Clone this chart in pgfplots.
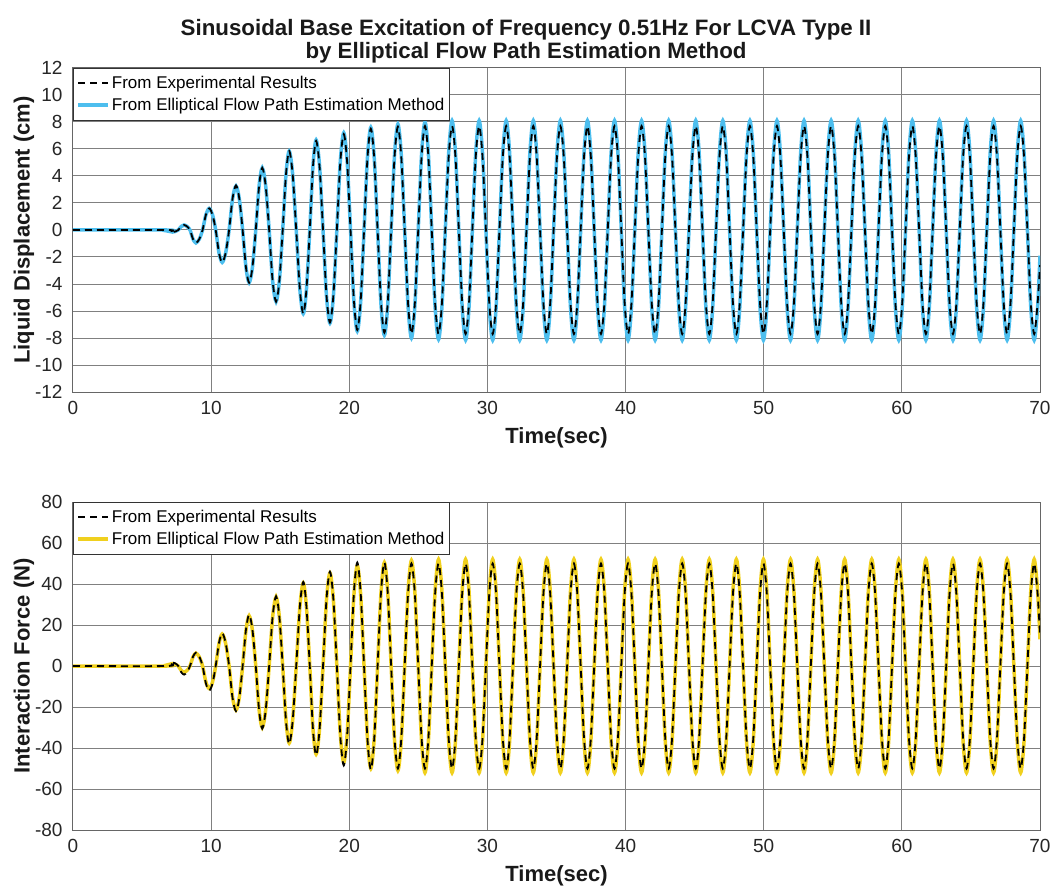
\documentclass[border=0pt]{standalone}
\usepackage{pgfplots}
\usepackage{pgfplotstable}
\pgfplotsset{compat=1.18}
\usepackage{fontspec}
\setmainfont{Liberation Sans}
\definecolor{cblue}{RGB}{77,190,238}
\definecolor{cyel}{RGB}{240,208,30}
\pgfplotstableread{
t ub uk fy fk
0 0 0 0 0
6.8 0 0 0 0
7.0 -0.11 -0.11 0.85 1.27
7.2 -0.15 -0.15 1.2 1.8
7.41 -0.11 -0.11 0.85 1.27
7.62 0 0 0 0
7.83 0.26 0.26 -2.12 -2.97
8.04 0.37 0.37 -3.0 -4.2
8.26 0.26 0.26 -2.12 -2.97
8.47 0 0 0 0
8.69 -0.68 -0.68 4.45 4.6
8.9 -0.96 -0.96 6.3 6.5
9.14 -0.68 -0.68 4.45 4.6
9.38 0 0 0 0
9.62 1.13 1.13 -7.78 -8.48
9.86 1.6 1.6 -11 -12
10.1 1.13 1.13 -7.78 -8.48
10.33 0 0 0 0
10.57 -1.7 -1.7 11.0 11.3
10.8 -2.4 -2.4 15.6 16
11.05 -1.7 -1.7 11.0 11.3
11.3 0 0 0 0
11.55 2.3 2.33 -15.2 -15.6
11.8 3.26 3.3 -21.5 -22
12.04 2.3 2.33 -15.2 -15.6
12.28 0 0 0 0
12.52 -2.76 -2.76 17.3 17.7
12.75 -3.9 -3.9 24.5 25
12.99 -2.76 -2.76 17.3 17.7
13.23 0 0 0 0
13.47 3.25 3.25 -21.2 -21.6
13.7 4.6 4.6 -30 -30.5
13.95 3.25 3.25 -21.2 -21.6
14.2 0 0 0 0
14.45 -3.75 -3.75 23.8 24.0
14.7 -5.3 -5.3 33.7 34
14.94 -3.75 -3.75 23.8 24.0
15.18 0 0 0 0
15.42 4.14 4.14 -26.6 -26.9
15.65 5.85 5.85 -37.6 -38
15.9 4.14 4.14 -26.6 -26.9
16.16 0 0 0 0
16.42 -4.38 -4.38 28.6 29.0
16.67 -6.2 -6.2 40.5 41
16.9 -4.38 -4.38 28.6 29.0
17.14 0 0 0 0
17.37 4.72 4.67 -30.4 -30.8
17.6 6.67 6.6 -43 -43.5
17.85 4.72 4.67 -30.4 -30.8
18.1 0 0 0 0
18.35 -4.88 -4.84 32.1 32.5
18.6 -6.9 -6.85 45.4 46
18.85 -4.88 -4.84 32.1 32.5
19.1 0 0 0 0
19.35 5.09 5.02 -33.2 -34.3
19.6 7.2 7.1 -47 -48.5
19.845 5.09 5.02 -33.2 -34.3
20.09 0 0 0 0
20.335 -5.3 -5.23 34.6 35.7
20.58 -7.5 -7.4 49 50.5
20.825 -5.3 -5.23 34.6 35.7
21.07 0 0 0 0
21.315 5.37 5.3 -35.4 -35.7
21.56 7.6 7.5 -50 -50.5
21.805 5.37 5.3 -35.4 -35.7
22.05 0 0 0 0
22.295 -5.51 -5.37 35.7 35.7
22.54 -7.8 -7.6 50.5 50.5
22.785 -5.51 -5.37 35.7 35.7
23.03 0 0 0 0
23.275 5.55 5.41 -36.1 -35.4
23.52 7.85 7.65 -51 -50
23.765 5.55 5.41 -36.1 -35.4
24.01 0 0 0 0
24.255 -5.66 -5.44 36.4 35.4
24.5 -8.0 -7.7 51.5 50
24.745 -5.66 -5.44 36.4 35.4
24.99 0 0 0 0
25.235 5.66 5.44 -36.8 -35.4
25.48 8.0 7.7 -52 -50
25.725 5.66 5.44 -36.8 -35.4
25.97 0 0 0 0
26.215 -5.73 -5.44 36.8 35.4
26.46 -8.1 -7.7 52 50
26.705 -5.73 -5.44 36.8 35.4
26.95 0 0 0 0
27.195 5.73 5.44 -36.8 -35.4
27.44 8.1 7.7 -52 -50
27.685 5.73 5.44 -36.8 -35.4
27.93 0 0 0 0
28.175 -5.76 -5.44 36.8 35.4
28.42 -8.15 -7.7 52 50
28.665 -5.76 -5.44 36.8 35.4
28.91 0 0 0 0
29.155 5.73 5.44 -36.8 -35.4
29.40 8.1 7.7 -52 -50
29.645 5.73 5.44 -36.8 -35.4
29.89 0 0 0 0
30.135 -5.76 -5.44 36.8 35.4
30.38 -8.15 -7.7 52 50
30.625 -5.76 -5.44 36.8 35.4
30.87 0 0 0 0
31.115 5.73 5.44 -36.8 -35.4
31.36 8.1 7.7 -52 -50
31.605 5.73 5.44 -36.8 -35.4
31.85 0 0 0 0
32.095 -5.76 -5.44 36.8 35.4
32.34 -8.15 -7.7 52 50
32.585 -5.76 -5.44 36.8 35.4
32.83 0 0 0 0
33.075 5.73 5.44 -36.8 -35.4
33.32 8.1 7.7 -52 -50
33.565 5.73 5.44 -36.8 -35.4
33.81 0 0 0 0
34.055 -5.76 -5.44 36.8 35.4
34.30 -8.15 -7.7 52 50
34.545 -5.76 -5.44 36.8 35.4
34.79 0 0 0 0
35.035 5.73 5.44 -36.8 -35.4
35.28 8.1 7.7 -52 -50
35.525 5.73 5.44 -36.8 -35.4
35.77 0 0 0 0
36.015 -5.76 -5.44 36.8 35.4
36.26 -8.15 -7.7 52 50
36.505 -5.76 -5.44 36.8 35.4
36.75 0 0 0 0
36.995 5.73 5.44 -36.8 -35.4
37.24 8.1 7.7 -52 -50
37.485 5.73 5.44 -36.8 -35.4
37.73 0 0 0 0
37.975 -5.76 -5.44 36.8 35.4
38.22 -8.15 -7.7 52 50
38.465 -5.76 -5.44 36.8 35.4
38.71 0 0 0 0
38.955 5.73 5.44 -36.8 -35.4
39.20 8.1 7.7 -52 -50
39.445 5.73 5.44 -36.8 -35.4
39.69 0 0 0 0
39.935 -5.76 -5.44 36.8 35.4
40.18 -8.15 -7.7 52 50
40.425 -5.76 -5.44 36.8 35.4
40.67 0 0 0 0
40.915 5.73 5.44 -36.8 -35.4
41.16 8.1 7.7 -52 -50
41.405 5.73 5.44 -36.8 -35.4
41.65 0 0 0 0
41.895 -5.76 -5.44 36.8 35.4
42.14 -8.15 -7.7 52 50
42.385 -5.76 -5.44 36.8 35.4
42.63 0 0 0 0
42.875 5.73 5.44 -36.8 -35.4
43.12 8.1 7.7 -52 -50
43.365 5.73 5.44 -36.8 -35.4
43.61 0 0 0 0
43.855 -5.76 -5.44 36.8 35.4
44.10 -8.15 -7.7 52 50
44.345 -5.76 -5.44 36.8 35.4
44.59 0 0 0 0
44.835 5.73 5.44 -36.8 -35.4
45.08 8.1 7.7 -52 -50
45.325 5.73 5.44 -36.8 -35.4
45.57 0 0 0 0
45.815 -5.76 -5.44 36.8 35.4
46.06 -8.15 -7.7 52 50
46.305 -5.76 -5.44 36.8 35.4
46.55 0 0 0 0
46.795 5.73 5.44 -36.8 -35.4
47.04 8.1 7.7 -52 -50
47.285 5.73 5.44 -36.8 -35.4
47.53 0 0 0 0
47.775 -5.76 -5.44 36.8 35.4
48.02 -8.15 -7.7 52 50
48.265 -5.76 -5.44 36.8 35.4
48.51 0 0 0 0
48.755 5.73 5.44 -36.8 -35.4
49.00 8.1 7.7 -52 -50
49.245 5.73 5.44 -36.8 -35.4
49.49 0 0 0 0
49.735 -5.76 -5.44 36.8 35.4
49.98 -8.15 -7.7 52 50
50.225 -5.76 -5.44 36.8 35.4
50.47 0 0 0 0
50.715 5.73 5.44 -36.8 -35.4
50.96 8.1 7.7 -52 -50
51.205 5.73 5.44 -36.8 -35.4
51.45 0 0 0 0
51.695 -5.76 -5.44 36.8 35.4
51.94 -8.15 -7.7 52 50
52.185 -5.76 -5.44 36.8 35.4
52.43 0 0 0 0
52.675 5.73 5.44 -36.8 -35.4
52.92 8.1 7.7 -52 -50
53.165 5.73 5.44 -36.8 -35.4
53.41 0 0 0 0
53.655 -5.76 -5.44 36.8 35.4
53.90 -8.15 -7.7 52 50
54.145 -5.76 -5.44 36.8 35.4
54.39 0 0 0 0
54.635 5.73 5.44 -36.8 -35.4
54.88 8.1 7.7 -52 -50
55.125 5.73 5.44 -36.8 -35.4
55.37 0 0 0 0
55.615 -5.76 -5.44 36.8 35.4
55.86 -8.15 -7.7 52 50
56.105 -5.76 -5.44 36.8 35.4
56.35 0 0 0 0
56.595 5.73 5.44 -36.8 -35.4
56.84 8.1 7.7 -52 -50
57.085 5.73 5.44 -36.8 -35.4
57.33 0 0 0 0
57.575 -5.76 -5.44 36.8 35.4
57.82 -8.15 -7.7 52 50
58.065 -5.76 -5.44 36.8 35.4
58.31 0 0 0 0
58.555 5.73 5.44 -36.8 -35.4
58.80 8.1 7.7 -52 -50
59.045 5.73 5.44 -36.8 -35.4
59.29 0 0 0 0
59.535 -5.76 -5.44 36.8 35.4
59.78 -8.15 -7.7 52 50
60.025 -5.76 -5.44 36.8 35.4
60.27 0 0 0 0
60.515 5.73 5.44 -36.8 -35.4
60.76 8.1 7.7 -52 -50
61.005 5.73 5.44 -36.8 -35.4
61.25 0 0 0 0
61.495 -5.76 -5.44 36.8 35.4
61.74 -8.15 -7.7 52 50
61.985 -5.76 -5.44 36.8 35.4
62.23 0 0 0 0
62.475 5.73 5.44 -36.8 -35.4
62.72 8.1 7.7 -52 -50
62.965 5.73 5.44 -36.8 -35.4
63.21 0 0 0 0
63.455 -5.76 -5.44 36.8 35.4
63.70 -8.15 -7.7 52 50
63.945 -5.76 -5.44 36.8 35.4
64.19 0 0 0 0
64.435 5.73 5.44 -36.8 -35.4
64.68 8.1 7.7 -52 -50
64.925 5.73 5.44 -36.8 -35.4
65.17 0 0 0 0
65.415 -5.76 -5.44 36.8 35.4
65.66 -8.15 -7.7 52 50
65.905 -5.76 -5.44 36.8 35.4
66.15 0 0 0 0
66.395 5.73 5.44 -36.8 -35.4
66.64 8.1 7.7 -52 -50
66.885 5.73 5.44 -36.8 -35.4
67.13 0 0 0 0
67.375 -5.76 -5.44 36.8 35.4
67.62 -8.15 -7.7 52 50
67.865 -5.76 -5.44 36.8 35.4
68.11 0 0 0 0
68.355 5.73 5.44 -36.8 -35.4
68.60 8.1 7.7 -52 -50
68.845 5.73 5.44 -36.8 -35.4
69.09 0 0 0 0
69.335 -5.76 -5.44 36.8 35.4
69.58 -8.15 -7.7 52 50
69.825 -5.76 -5.44 36.8 35.4
70 -1.9 -2.6 13 15
}\data
\pgfplotsset{
  myax/.style={
    scale only axis, width=967bp,
    xmin=0, xmax=70, xtick={0,10,...,70},
    grid=major, major grid style={black!50, line width=1bp},
    axis line style={black!60, line width=1bp},
    major tick length=0pt,
    /pgf/number format/assume math mode=true,
    tick label style={font=\fontsize{19bp}{21bp}\selectfont, text=black!85},
    yticklabel style={xshift=-7bp},
    xticklabel style={yshift=-6bp},
    label style={font=\bfseries\fontsize{22bp}{24bp}\selectfont, text=black!90},
    xlabel={Time(sec)},
    xlabel style={at={(axis description cs:0.5,0)}, anchor=center, yshift=-46bp},
    ylabel style={at={(axis description cs:0,0.5)}, anchor=center, yshift=49bp},
    legend style={at={(0,1)}, anchor=north west, draw=black!80, line width=0.8bp,
      fill=white, font=\fontsize{17bp}{20bp}\selectfont, inner xsep=3bp, inner ysep=6bp,
      row sep=4bp, cells={anchor=west}},
    legend image code/.code={\draw[##1] (0bp,0bp) -- (30bp,0bp);},
    reverse legend,
  },
}
\begin{document}
\begin{tikzpicture}
\path[use as bounding box] (-73bp,-501bp) rectangle (981bp,392bp);
\begin{axis}[myax, at={(0,0)}, anchor=south west, height=324bp,
  ymin=-12, ymax=12, ytick={-12,-10,...,12},
  ylabel={Liquid Displacement (cm)},
  title={Sinusoidal Base Excitation of Frequency 0.51Hz For LCVA Type II\\by Elliptical Flow Path Estimation Method},
  title style={at={(rel axis cs:0.4685,1)}, anchor=south, align=center, inner sep=0pt, yshift=-1bp,
    font=\bfseries\fontsize{22.3bp}{23bp}\selectfont, text=black!90},
]
\addplot[cblue, line width=3.5bp, smooth] table[x=t, y=ub] {\data};
\addlegendentry{From Elliptical Flow Path Estimation Method}
\addplot[black, line width=1.8bp, dash pattern=on 7bp off 5bp, smooth] table[x=t, y=uk] {\data};
\addlegendentry{From Experimental Results}
\end{axis}
\begin{axis}[myax, at={(0,-438bp)}, anchor=south west, height=328bp,
  ymin=-80, ymax=80, ytick={-80,-60,...,80},
  ylabel={Interaction Force (N)},
]
\addplot[cyel, line width=3.5bp, smooth] table[x=t, y=fy] {\data};
\addlegendentry{From Elliptical Flow Path Estimation Method}
\addplot[black, line width=1.8bp, dash pattern=on 7bp off 5bp, smooth] table[x=t, y=fk] {\data};
\addlegendentry{From Experimental Results}
\end{axis}
\end{tikzpicture}
\end{document}
